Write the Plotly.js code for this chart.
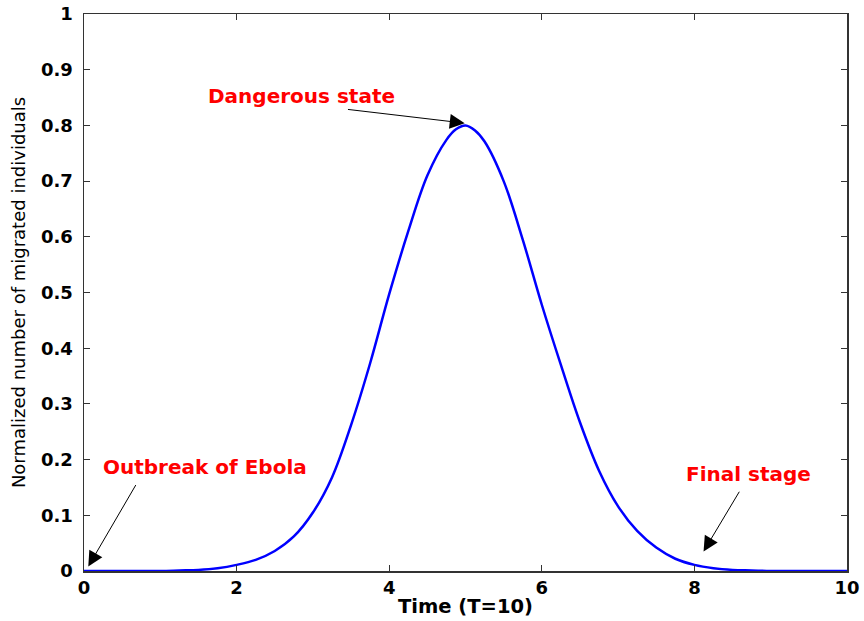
<!DOCTYPE html>
<html>
<head>
<meta charset="utf-8">
<script src="https://cdn.plot.ly/plotly-3.0.1.min.js"></script>
<style>html,body{margin:0;padding:0;background:#fff;}#chart{width:864px;height:621px;}</style>
</head>
<body>
<div id="chart"></div>
<script>
// Time values (T=10)
const timeValues = [0, 0.5, 1, 1.25, 1.5, 1.75, 2, 2.25, 2.5, 2.75, 3, 3.25, 3.5, 3.75, 4, 4.25, 4.5, 4.75, 4.875, 5, 5.125, 5.25, 5.5, 5.75, 6, 6.25, 6.5, 6.75, 7, 7.25, 7.5, 7.75, 8, 8.25, 8.5, 8.75, 9, 9.5, 10];
// Normalized number of migrated individuals
const migratedValues = [0, 0, 0, 0.001, 0.002, 0.005, 0.011, 0.02, 0.036, 0.062, 0.105, 0.168, 0.262, 0.373, 0.497, 0.61, 0.71, 0.774, 0.793, 0.80, 0.791, 0.771, 0.70, 0.595, 0.478, 0.37, 0.267, 0.18, 0.116, 0.072, 0.042, 0.022, 0.011, 0.005, 0.002, 0.001, 0, 0, 0];

const xTicks = [0, 2, 4, 6, 8, 10];
const yTicks = [0, 0.1, 0.2, 0.3, 0.4, 0.5, 0.6, 0.7, 0.8, 0.9, 1];
const yTickLabels = ['0', '0.1', '0.2', '0.3', '0.4', '0.5', '0.6', '0.7', '0.8', '0.9', '1'];

const labelTexts = ['Dangerous state', 'Outbreak of Ebola', 'Final stage'];
const labelX = [2.85, 1.586, 8.715];
const labelY = [0.853, 0.187, 0.174];
const arrowHeadX = [4.99, 0.056, 8.12];
const arrowHeadY = [0.804, 0.008, 0.035];
const arrowTailX = [3.44, 0.69, 8.60];
const arrowTailY = [0.829, 0.157, 0.145];

const FONT = 'DejaVu Sans, Verdana, sans-serif';

const annotations = [];
for (let i = 0; i < labelTexts.length; i++) {
  annotations.push({
    x: labelX[i], y: labelY[i], xref: 'x', yref: 'y',
    text: '<b>' + labelTexts[i] + '</b>', showarrow: false,
    font: {family: FONT, size: 20, color: '#ff0000'}
  });
  annotations.push({
    x: arrowHeadX[i], y: arrowHeadY[i], ax: arrowTailX[i], ay: arrowTailY[i],
    xref: 'x', yref: 'y', axref: 'x', ayref: 'y',
    text: '', showarrow: true, arrowhead: 2, arrowsize: 3, arrowwidth: 1, arrowcolor: '#000',
    standoff: 0, startstandoff: 0
  });
}

const trace = {
  x: timeValues, y: migratedValues, type: 'scatter', mode: 'lines',
  line: {color: '#0000ff', width: 2.5, shape: 'spline', smoothing: 1},
  hoverinfo: 'skip'
};

const layout = {
  width: 864, height: 621,
  margin: {l: 84, r: 17, t: 14, b: 50, pad: 0},
  paper_bgcolor: '#fff', plot_bgcolor: '#fff',
  showlegend: false,
  font: {family: FONT, color: '#000'},
  xaxis: {
    range: [0, 10], tickvals: xTicks, ticktext: xTicks.map(String),
    ticks: 'inside', ticklen: 6, tickcolor: '#333', tickwidth: 1,
    showline: true, linecolor: '#333', linewidth: 1.5, mirror: 'ticks',
    showgrid: false, zeroline: false,
    tickfont: {family: FONT, size: 18, color: '#000', weight: 'bold'},
    ticklabelstandoff: 0,
    title: {text: '<b>Time (T=10)</b>', font: {family: FONT, size: 19.5, color: '#000'}, standoff: 2}
  },
  yaxis: {
    range: [0, 1], tickvals: yTicks, ticktext: yTickLabels,
    ticks: 'inside', ticklen: 6, tickcolor: '#333', tickwidth: 1,
    showline: true, linecolor: '#333', linewidth: 1.5, mirror: 'ticks',
    showgrid: false, zeroline: false,
    tickfont: {family: FONT, size: 18, color: '#000', weight: 'bold'},
    ticklabelstandoff: 6,
    title: {text: 'Normalized number of migrated individuals', font: {family: FONT, size: 18, color: '#000'}, standoff: 10}
  },
  annotations: annotations
};

Plotly.newPlot('chart', [trace], layout, {displayModeBar: false, staticPlot: true});
</script>
</body>
</html>
